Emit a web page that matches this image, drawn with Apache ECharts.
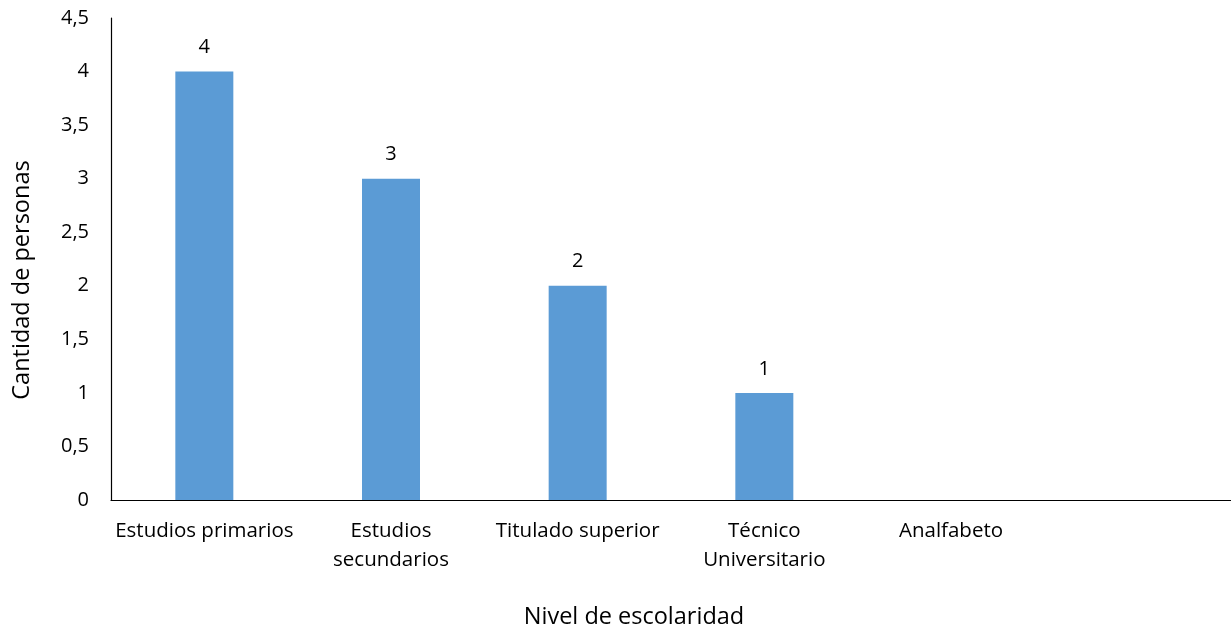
<!DOCTYPE html>
<html>
<head>
<meta charset="utf-8">
<script src="https://cdn.jsdelivr.net/npm/echarts@6/dist/echarts.min.js"></script>
<style>
html,body{margin:0;padding:0;background:#fff;}
#c{width:1231px;height:630px;}
</style>
</head>
<body>
<div id="c"></div>
<script>
var categories = ["Estudios primarios", "Estudios\nsecundarios", "Titulado superior", "Técnico\nUniversitario", "Analfabeto", ""];
var values = [4, 3, 2, 1, 0, null];
var xAxisTitle = "Nivel de escolaridad";
var yAxisTitle = "Cantidad de personas";

var font = "'Open Sans', sans-serif";
var chart = echarts.init(document.getElementById('c'));
chart.setOption({
  animation: false,
  grid: {left: 111, right: 0, top: 18, bottom: 130},
  xAxis: {
    type: 'category',
    data: categories,
    axisLine: {lineStyle: {color: '#000', width: 1.2}},
    axisTick: {show: false},
    axisLabel: {color: '#000', fontSize: 20.5, fontFamily: font, margin: 17, lineHeight: 29, interval: 0}
  },
  yAxis: {
    type: 'value',
    min: 0, max: 4.5, interval: 0.5,
    axisLine: {show: true, lineStyle: {color: '#000', width: 1.2}},
    axisTick: {show: false},
    splitLine: {show: false},
    axisLabel: {color: '#000', fontSize: 20, fontFamily: font, margin: 22,
      formatter: function(v){ return String(v).replace('.', ','); }}
  },
  series: [{
    type: 'bar',
    data: values,
    barWidth: 58,
    itemStyle: {color: '#5B9BD5'},
    label: {show: true, position: 'top', distance: 14, color: '#000', fontSize: 20, fontFamily: font,
      formatter: function(p){ return p.value ? String(p.value) : ''; }}
  }],
  graphic: [
    {type: 'text', x: 634, y: 617, style: {text: xAxisTitle, font: '23.5px ' + font, fill: '#000', textAlign: 'center', textVerticalAlign: 'middle'}},
    {type: 'text', x: 22, y: 280, rotation: Math.PI/2, style: {text: yAxisTitle, font: '23.5px ' + font, fill: '#000', textAlign: 'center', textVerticalAlign: 'middle'}}
  ]
});
</script>
</body>
</html>
